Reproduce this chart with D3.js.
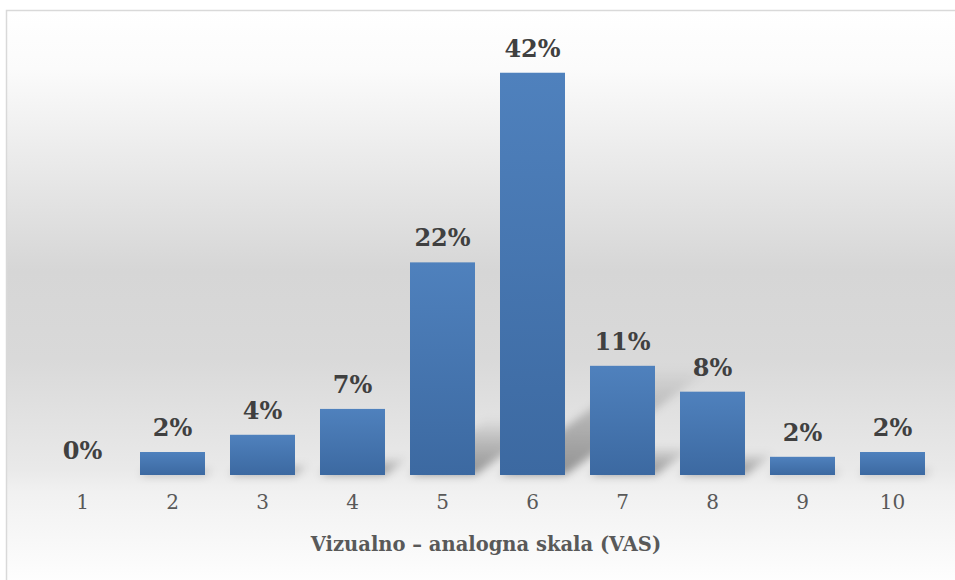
<!DOCTYPE html>
<html>
<head>
<meta charset="utf-8">
<script src="https://cdn.jsdelivr.net/npm/d3@7"></script>
<style>
  html, body { margin: 0; padding: 0; background: #fff; }
  svg { display: block; }
</style>
</head>
<body>
<div id="chart"></div>
<script>
// VAS scores and the share of answers for each one
const categories = ['1', '2', '3', '4', '5', '6', '7', '8', '9', '10']
const values = [0, 2.4, 4.2, 6.9, 22.2, 42, 11.4, 8.7, 1.9, 2.4]
const valueLabels = ['0%', '2%', '4%', '7%', '22%', '42%', '11%', '8%', '2%', '2%']
const axisTitle = 'Vizualno – analogna skala (VAS)'

const width = 955
const height = 580
const margin = { top: 44, right: 17.5, bottom: 105, left: 37.5 }
const serif = '"DejaVu Serif", serif'

const svg = d3.select('#chart')
  .append('svg')
  .attr('width', width)
  .attr('height', height)

const defs = svg.append('defs')

// chart background: white -> grey -> white
const bg = defs.append('linearGradient')
  .attr('id', 'bg')
  .attr('x1', 0).attr('y1', 0).attr('x2', 0).attr('y2', 1)
bg.selectAll('stop')
  .data([[0, '#ffffff'], [0.1, '#fbfbfb'], [0.45, '#d6d6d6'], [0.6, '#d9d9d9'], [0.79, '#e9e9e9'], [0.83, '#f1f1f1'], [1, '#ffffff']])
  .join('stop')
  .attr('offset', d => d[0])
  .attr('stop-color', d => d[1])

const barFill = defs.append('linearGradient')
  .attr('id', 'barFill')
  .attr('x1', 0).attr('y1', 0).attr('x2', 0).attr('y2', 1)
barFill.selectAll('stop')
  .data([[0, '#4f81bd'], [1, '#3c69a1']])
  .join('stop')
  .attr('offset', d => d[0])
  .attr('stop-color', d => d[1])

const shadowFill = defs.append('linearGradient')
  .attr('id', 'shadowFill')
  .attr('x1', 0).attr('y1', 1).attr('x2', 0).attr('y2', 0)
shadowFill.selectAll('stop')
  .data([[0, 0.38], [0.6, 0.18], [1, 0.0]])
  .join('stop')
  .attr('offset', d => d[0])
  .attr('stop-color', '#000')
  .attr('stop-opacity', d => d[1])

defs.append('filter')
  .attr('id', 'blur')
  .attr('x', '-30%').attr('y', '-30%').attr('width', '160%').attr('height', '160%')
  .append('feGaussianBlur')
  .attr('stdDeviation', 4)

svg.append('rect')
  .attr('x', 6.5)
  .attr('y', 10.5)
  .attr('width', width)
  .attr('height', height)
  .attr('fill', 'url(#bg)')
  .attr('stroke', '#d9d9d9')
  .attr('stroke-width', 1.5)

const x = d3.scaleBand()
  .domain(categories)
  .range([margin.left, width - margin.right])
  .paddingInner(25 / 90)
  .paddingOuter(25 / 180)

const y = d3.scaleLinear()
  .domain([0, 45])
  .range([height - margin.bottom, margin.top])

const baseY = y(0)

const data = categories.map((c, i) => ({ c, v: values[i], label: valueLabels[i] }))

// perspective shadows falling back and to the right
svg.append('g')
  .attr('filter', 'url(#blur)')
  .selectAll('path')
  .data(data.filter(d => d.v > 0))
  .join('path')
  .attr('fill', 'url(#shadowFill)')
  .attr('d', d => {
    const h = baseY - y(d.v)
    const x0 = x(d.c)
    const x1 = x0 + x.bandwidth()
    const dx = h * 0.37
    const dy = h * 0.27
    return `M${x0},${baseY}L${x1},${baseY}L${x1 + dx},${baseY - dy}L${x0 + dx},${baseY - dy}Z`
  })

svg.append('g')
  .selectAll('rect')
  .data(data)
  .join('rect')
  .attr('x', d => x(d.c))
  .attr('y', d => y(d.v))
  .attr('width', x.bandwidth())
  .attr('height', d => baseY - y(d.v))
  .attr('fill', 'url(#barFill)')

svg.append('g')
  .selectAll('text')
  .data(data)
  .join('text')
  .attr('x', d => x(d.c) + x.bandwidth() / 2)
  .attr('y', d => y(d.v) - 16)
  .attr('text-anchor', 'middle')
  .attr('font-family', serif)
  .attr('font-weight', 'bold')
  .attr('font-size', 24)
  .attr('fill', '#404040')
  .text(d => d.label)

const xAxis = svg.append('g')
  .attr('transform', `translate(0, ${baseY})`)
  .call(d3.axisBottom(x).tickSize(0).tickPadding(20))
xAxis.select('.domain').remove()
xAxis.selectAll('text')
  .attr('font-family', serif)
  .attr('font-size', 20)
  .attr('fill', '#595959')

svg.append('text')
  .attr('x', 486)
  .attr('y', 551)
  .attr('text-anchor', 'middle')
  .attr('font-family', serif)
  .attr('font-weight', 'bold')
  .attr('font-size', 19.5)
  .attr('fill', '#595959')
  .text(axisTitle)
</script>
</body>
</html>
